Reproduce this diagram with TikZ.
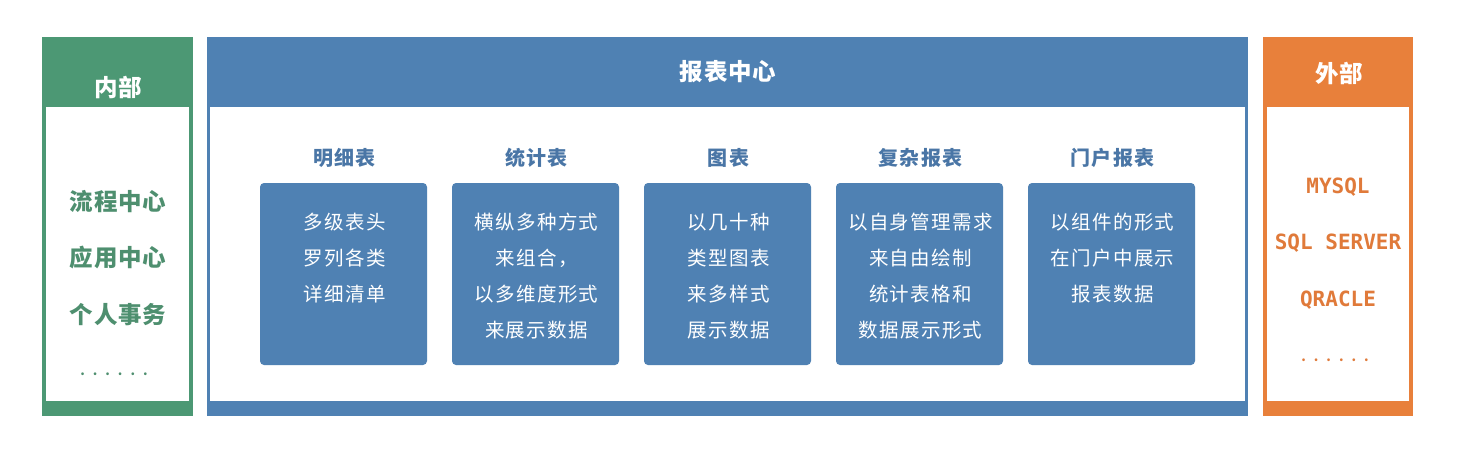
\documentclass[tikz,border=0pt]{standalone}
\usepackage{fontspec}
\setmainfont{Noto Sans CJK SC}
\newfontfamily\cjk{Noto Sans CJK SC}
\newfontfamily\cjkside[LetterSpace=3]{Noto Sans CJK SC}
\newfontfamily\cjkmid[LetterSpace=7]{Noto Sans CJK SC}
\newfontfamily\monofnt{DejaVu Sans Mono}
\definecolor{gbar}{HTML}{4C9874}
\definecolor{gtext}{HTML}{4E8F6F}
\definecolor{bbar}{HTML}{4F81B3}
\definecolor{btext}{HTML}{4A76A6}
\definecolor{obar}{HTML}{E8803B}
\definecolor{otext}{HTML}{E07A3A}
\newcommand{\dotrow}{.\hspace{8pt}.\hspace{8pt}.\hspace{8pt}.\hspace{8pt}.\hspace{8pt}.}
\begin{document}
\begin{tikzpicture}[x=1pt,y=-1pt,
  panelbar/.style={fill=#1,draw=none},
  whitearea/.style={fill=white,draw=none},
  headtxt/.style={text=white,font=\cjkside\bfseries\fontsize{23.5}{26}\selectfont,inner sep=0pt},
  sidetxt/.style={text=gtext,font=\cjkside\bfseries\fontsize{23.5}{26}\selectfont,inner sep=0pt},
  dbtxt/.style={text=otext,font=\monofnt\bfseries\fontsize{21}{24}\selectfont,inner sep=0pt},
  dottxt/.style={font=\cjk\bfseries\fontsize{13}{16}\selectfont,inner sep=0pt},
  coltitle/.style={text=btext,font=\cjkmid\bfseries\fontsize{20}{24}\selectfont,inner sep=0pt},
  card/.style={fill=bbar,draw=none,rounded corners=4pt},
  cardtxt/.style={text=white,font=\cjkmid\fontsize{19.5}{36}\selectfont,align=center,inner sep=0pt,anchor=north}
]
\useasboundingbox (0,0) rectangle (1459,458);
% left panel
\fill[panelbar=gbar] (42,37) rectangle (193,416);
\fill[whitearea] (46,107) rectangle (189,401);
\node[headtxt] (inT) at (118,87) {内部};
\node[sidetxt] (in1) at (118,202) {流程中心};
\node[sidetxt] (in2) at (118,258) {应用中心};
\node[sidetxt] (in3) at (118,315) {个人事务};
\node[dottxt,text=gtext] (in4) at (114,374) {\dotrow};
% center panel
\fill[panelbar=bbar] (207,37) rectangle (1248,416);
\fill[whitearea] (210,107) rectangle (1245,401);
\node[headtxt] (cT) at (728,72) {报表中心};
% right panel
\fill[panelbar=obar] (1263,37) rectangle (1413,416);
\fill[whitearea] (1267,107) rectangle (1409,401);
\node[headtxt] (exT) at (1339,73) {外部};
\node[dbtxt] (ex1) at (1338,187) {MYSQL};
\node[dbtxt] (ex2) at (1338,243) {SQL SERVER};
\node[dbtxt] (ex3) at (1338,300) {QRACLE};
\node[dottxt,text=otext] (ex4) at (1335,360) {\dotrow};
% cards
\foreach \i/\t/\body in {%
  0/明细表/{多级表头\\罗列各类\\详细清单},
  1/统计表/{横纵多种方式\\来组合，\\以多维度形式\\来展示数据},
  2/图表/{以几十种\\类型图表\\来多样式\\展示数据},
  3/复杂报表/{以自身管理需求\\来自由绘制\\统计表格和\\数据展示形式},
  4/门户报表/{以组件的形式\\在门户中展示\\报表数据}}{
  \pgfmathsetmacro{\xl}{260+192*\i}
  \pgfmathsetmacro{\xc}{\xl+84.5}
  \fill[card] (\xl,183) rectangle ++(167,182);
  \node[coltitle] (t\i) at (\xc,158) {\t};
  \node[cardtxt] (b\i) at (\xc,213) {\body};
}
\end{tikzpicture}
\end{document}
